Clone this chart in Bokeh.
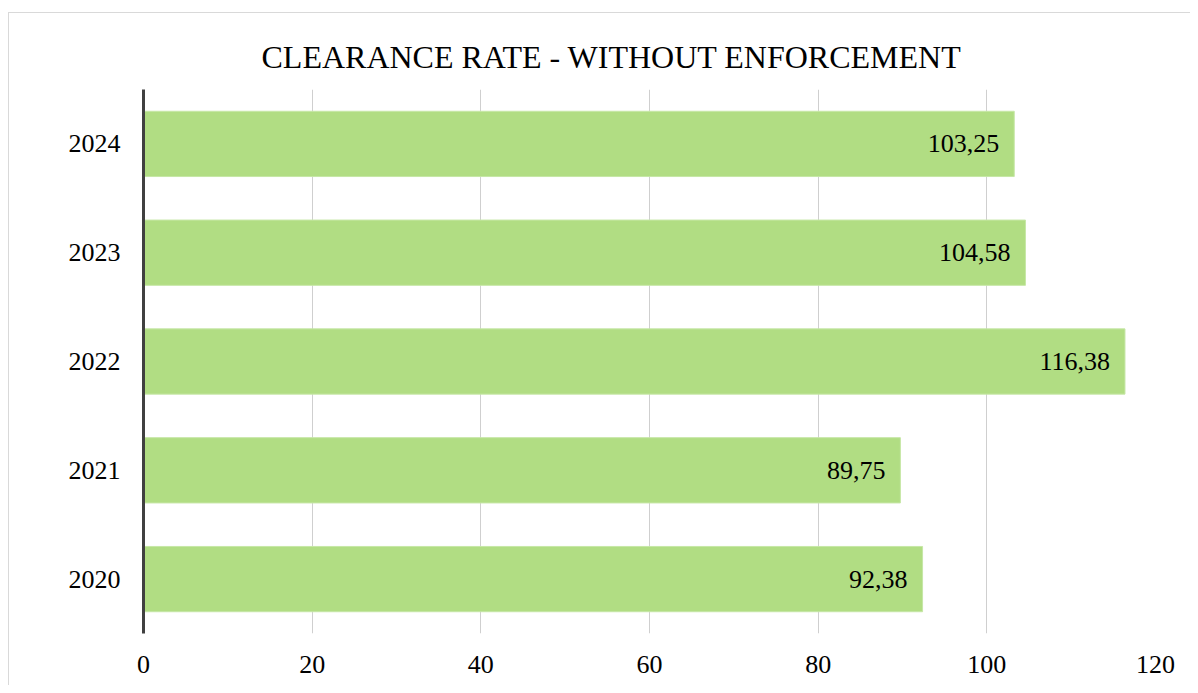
from bokeh.plotting import figure
from bokeh.models import ColumnDataSource, FactorRange, Range1d, FixedTicker
from bokeh.core.properties import value
from bokeh.embed import file_html
from bokeh.resources import INLINE

years = ["2020", "2021", "2022", "2023", "2024"]
rates = [92.38, 89.75, 116.38, 104.58, 103.25]
x_ticks = [0, 20, 40, 60, 80, 100, 120]
title_text = "CLEARANCE RATE - WITHOUT ENFORCEMENT"

labels = [f"{v:.2f}".replace(".", ",") for v in rates]
src = ColumnDataSource(dict(year=years, rate=rates, label=labels))

p = figure(width=1182, height=673, output_backend="svg", toolbar_location=None,
           y_range=FactorRange(*years, range_padding=0), x_range=Range1d(0, 120),
           min_border_left=134, min_border_right=36, min_border_top=76, min_border_bottom=53,
           tools="")
p.margin = (12, 0, 0, 8)
p.styles = {"border-left": "1px solid #d9d9d9", "border-top": "1px solid #d9d9d9"}
p.outline_line_color = None

p.title.text = title_text
p.title.text_font = "Liberation Serif"
p.title.text_font_style = "normal"
p.title.text_font_size = "32px"
p.title.text_color = "#000000"
p.title.align = "left"
p.title.offset = 118
p.title.standoff = 30

p.hbar(y="year", right="rate", left=0, height=0.6, source=src,
       fill_color="#b1dd83", line_color="#c6e7a6", line_width=1)

p.text(x="rate", y="year", text="label", source=src, text_align="right",
       text_baseline="middle", x_offset=-15, text_font=value("Liberation Serif"),
       text_font_size="26px", text_color="#000000")

p.xgrid.ticker = FixedTicker(ticks=x_ticks)
p.xgrid.grid_line_color = "#cfcfcf"
p.xgrid.grid_line_width = 1
p.ygrid.grid_line_color = None

p.xaxis.ticker = FixedTicker(ticks=x_ticks)
p.xaxis.axis_line_color = None
p.xaxis.major_tick_line_color = None
p.xaxis.minor_tick_line_color = None
p.xaxis.major_label_standoff = 16
p.xaxis.major_label_text_font = "Liberation Serif"
p.xaxis.major_label_text_font_size = "26px"
p.xaxis.major_label_text_color = "#000000"

p.yaxis.axis_line_color = "#404040"
p.yaxis.axis_line_width = 3
p.yaxis.major_tick_line_color = None
p.yaxis.minor_tick_line_color = None
p.yaxis.major_label_standoff = 17
p.yaxis.major_label_text_font = "Liberation Serif"
p.yaxis.major_label_text_font_size = "26px"
p.yaxis.major_label_text_color = "#000000"

open("out.html", "w").write(file_html(p, INLINE))
